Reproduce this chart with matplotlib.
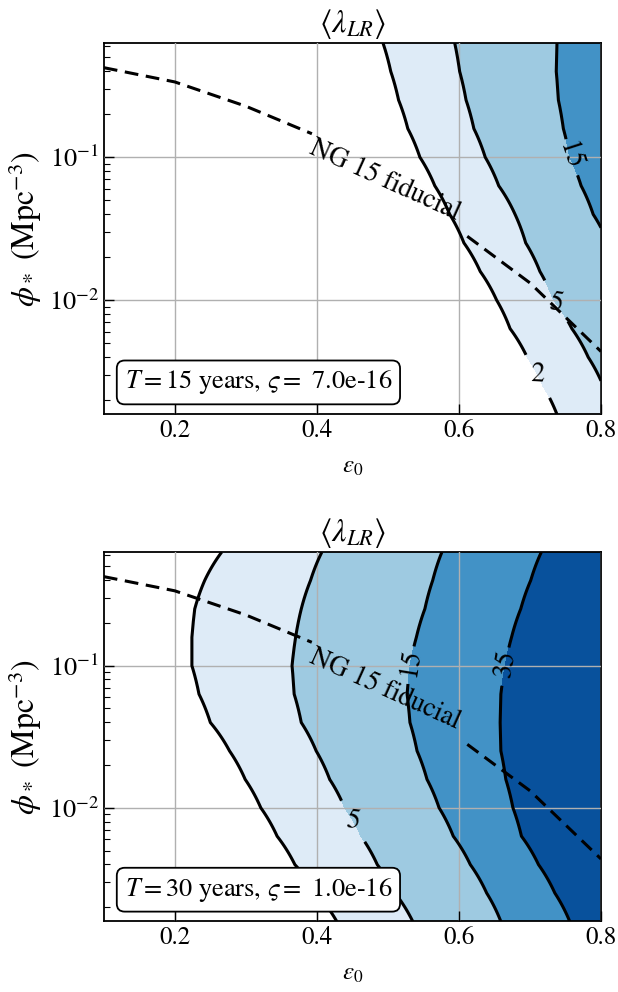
import numpy as np
import matplotlib
matplotlib.use("Agg")
import matplotlib.pyplot as plt

plt.rcParams['font.family'] = 'STIXGeneral'
plt.rcParams['mathtext.fontset'] = 'stix'
plt.rcParams['font.size'] = 18

# log10(phi_*) rows at which the contour positions are tabulated
log_phi_rows = [-2.8, -2.6, -2.4, -2.2, -2.0, -1.8, -1.6, -1.4, -1.2, -1.0, -0.8, -0.6, -0.4, -0.2]

# --- T = 15 yr, sigma = 7e-16: eps_0 where <lambda_LR> crosses each level ---
t15_lam2 = [0.738, 0.718, 0.696, 0.672, 0.653, 0.630, 0.607, 0.587, 0.566, 0.545, 0.528, 0.515, 0.504, 0.493]
t15_lam5 = [0.825, 0.803, 0.782, 0.759, 0.733, 0.714, 0.694, 0.679, 0.656, 0.637, 0.621, 0.610, 0.601, 0.594]
t15_lam15 = [0.980, 0.950, 0.920, 0.890, 0.860, 0.835, 0.810, 0.789, 0.772, 0.756, 0.747, 0.740, 0.737, 0.738]

# --- T = 30 yr, sigma = 1e-16 ---
t30_lam2 = [0.428, 0.399, 0.369, 0.344, 0.321, 0.299, 0.277, 0.250, 0.234, 0.224, 0.224, 0.228, 0.242, 0.266]
t30_lam5 = [0.535, 0.510, 0.485, 0.462, 0.439, 0.418, 0.399, 0.378, 0.368, 0.365, 0.370, 0.378, 0.391, 0.407]
t30_lam15 = [0.659, 0.639, 0.616, 0.592, 0.572, 0.555, 0.541, 0.531, 0.527, 0.531, 0.540, 0.552, 0.563, 0.576]
t30_lam35 = [0.756, 0.735, 0.712, 0.688, 0.676, 0.666, 0.659, 0.658, 0.659, 0.665, 0.674, 0.687, 0.701, 0.716]

# NANOGrav 15-yr fiducial relation phi_*(eps_0)
fid_eps = [0.1, 0.2, 0.3, 0.4, 0.5, 0.6, 0.7, 0.8]
fid_log_phi = [-0.373, -0.473, -0.643, -0.850, -1.180, -1.510, -1.880, -2.360]

fill_colors = ['#deebf7', '#9ecae1', '#4292c6', '#08519c']

panels = [
    dict(T=15, sig='7.0e-16', bounds=[t15_lam2, t15_lam5, t15_lam15], levels=[2, 5, 15],
         labels=[(0.711, 0.0030), (0.737, 0.0096), (0.756, 0.103)]),
    dict(T=30, sig='1.0e-16', bounds=[t30_lam2, t30_lam5, t30_lam15, t30_lam35], levels=[2, 5, 15, 35],
         labels=[None, (0.451, 0.0085), (0.526, 0.107), (0.662, 0.104)]),
]

eps_grid = np.linspace(0.1, 0.8, 351)
phi_rows = 10 ** np.array(log_phi_rows)

# fiducial curve as the zero level of log(phi) - log(phi_fid(eps))
log_phi_fine = np.linspace(-2.8, -0.2, 261)
fid_table = log_phi_fine[:, None] - np.interp(eps_grid, fid_eps, fid_log_phi)[None, :]

fig = plt.figure(figsize=(6.18, 9.92), dpi=100)
ax_boxes = [[0.168, 0.5823, 0.8045, 0.3744], [0.168, 0.0711, 0.8045, 0.3724]]

for p, box in zip(panels, ax_boxes):
    ax = fig.add_axes(box)
    for bound, lev, col, lab in zip(p['bounds'], p['levels'], fill_colors, p['labels']):
        # signed offset from the level crossing in each row; >0 means lambda above lev
        offset = eps_grid[None, :] - np.array(bound)[:, None]
        ax.contourf(eps_grid, phi_rows, offset, levels=[0, 5], colors=[col])
        cs = ax.contour(eps_grid, phi_rows, offset, levels=[0], colors='k', linewidths=2.2, zorder=3)
        if lab is not None:
            ax.clabel(cs, fmt={0: str(lev)}, manual=[lab], inline=True, fontsize=19.5)

    fid = ax.contour(eps_grid, 10 ** log_phi_fine, fid_table, levels=[0],
                     colors='k', linewidths=2.2, zorder=3)
    fid.set_linestyle((0, (4.5, 2.5)))
    ax.clabel(fid, fmt={0: 'NG 15 fiducial'}, manual=[(0.496, 0.0705)], inline=True, fontsize=19.5)

    ax.set_yscale('log')
    ax.set_xlim(0.1, 0.8)
    ax.set_ylim(10 ** -2.8, 10 ** -0.2)
    ax.set_xticks([0.2, 0.4, 0.6, 0.8])
    ax.grid(True, color='#b0b0b0', linewidth=1.0, zorder=2)
    ax.set_axisbelow(False)
    ax.tick_params(which='both', direction='in', top=False, right=False)
    ax.tick_params(which='major', length=7, width=1.0)
    ax.tick_params(axis='y', labelsize=19)
    ax.tick_params(which='minor', length=4, width=0.8)
    for s in ax.spines.values():
        s.set_linewidth(1.3)

    ax.set_title(r'$\langle\lambda_{LR}\rangle$', pad=8, fontsize=23)
    ax.set_xlabel(r'$\varepsilon_0$', labelpad=8)
    ax.set_ylabel(r'$\phi_*$ (Mpc$^{-3}$)', fontsize=23, labelpad=3)
    ax.text(0.042, 0.086, r'$T=$' + f"{p['T']} years, " + r'$\varsigma=$ ' + p['sig'],
            transform=ax.transAxes, ha='left', va='center', zorder=6, fontsize=19,
            bbox=dict(boxstyle='round,pad=0.3', fc='white', ec='black', lw=1.3))

fig.savefig('out.png', dpi=100)
